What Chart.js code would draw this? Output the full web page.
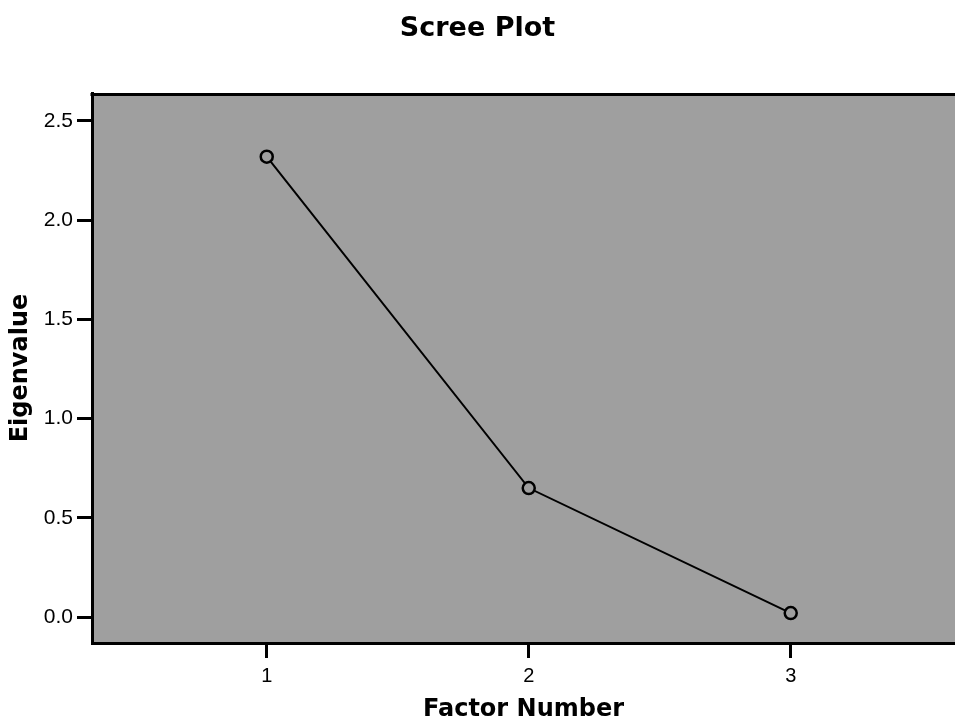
<!DOCTYPE html>
<html>
<head>
<meta charset="utf-8">
<title>Scree Plot</title>
<script src="https://cdn.jsdelivr.net/npm/chart.js@4.4.1/dist/chart.umd.min.js"></script>
<style>
    html, body { margin: 0; padding: 0; background: #fff; overflow: hidden; }
    canvas { display: block; }
</style>
</head>
<body>
<canvas id="screeChart" width="955" height="722"></canvas>
<script>
// Valeurs
const factorNumbers = [1, 2, 3];
const eigenvalues = [2.32, 0.65, 0.02];
const yTickValues = [0, 0.5, 1.0, 1.5, 2.0, 2.5];
const xTickValues = [1, 2, 3];

const plotGray = '#9f9f9f';

// Fond gris de la zone de tracé + bordure du haut
const plotFrame = {
    id: 'plotFrame',
    beforeDraw(chart) {
        const { ctx, chartArea } = chart;
        ctx.save();
        ctx.fillStyle = plotGray;
        ctx.fillRect(chartArea.left, chartArea.top, chartArea.right - chartArea.left, chartArea.bottom - chartArea.top);
        ctx.restore();
    },
    afterDraw(chart) {
        const { ctx, chartArea } = chart;
        ctx.save();
        ctx.strokeStyle = '#000';
        ctx.lineWidth = 3;
        ctx.beginPath();
        ctx.moveTo(chartArea.left - 1.5, chartArea.top + 1.5);
        ctx.lineTo(chartArea.right, chartArea.top + 1.5);
        ctx.stroke();
        ctx.restore();
    }
};

const ctx = document.getElementById('screeChart').getContext('2d');
new Chart(ctx, {
    type: 'scatter',
    data: {
        datasets: [{
            label: 'Eigenvalue',
            data: factorNumbers.map((f, i) => ({ x: f, y: eigenvalues[i] })),
            showLine: true,
            borderColor: '#000',
            borderWidth: 2,
            pointRadius: 6,
            pointHoverRadius: 6,
            pointBorderWidth: 2.5,
            pointBorderColor: '#000',
            pointBackgroundColor: plotGray,
            tension: 0
        }]
    },
    options: {
        responsive: false,
        animation: false,
        layout: { padding: 0, autoPadding: false },
        plugins: {
            legend: { display: false },
            tooltip: { enabled: false },
            title: {
                display: true,
                text: 'Scree Plot',
                color: '#000',
                font: { family: 'DejaVu Sans', size: 27, weight: 'bold', lineHeight: 1.2 },
                padding: { top: 13, bottom: 47.6 }
            }
        },
        scales: {
            x: {
                type: 'linear',
                min: 0.333,
                max: 3.627,
                afterFit: (scale) => {
                    scale.height = 79;
                    scale.paddingLeft = 0;
                    scale.paddingRight = 0;
                },
                afterBuildTicks: (scale) => { scale.ticks = xTickValues.map(v => ({ value: v })); },
                border: { display: true, width: 3, color: '#000' },
                grid: { drawOnChartArea: false, drawTicks: true, tickLength: 15, lineWidth: 3, color: '#000' },
                ticks: {
                    color: '#000',
                    padding: 6,
                    maxRotation: 0,
                    font: { family: 'Liberation Sans', size: 20 },
                    callback: (v) => String(v)
                },
                title: {
                    display: true,
                    text: 'Factor Number',
                    color: '#000',
                    font: { family: 'DejaVu Sans', size: 24, weight: 'bold', lineHeight: 1 },
                    padding: { top: 0, bottom: 0 }
                }
            },
            y: {
                type: 'linear',
                min: -0.131,
                max: 2.641,
                afterFit: (scale) => {
                    scale.width = 92;
                    scale.paddingTop = 0;
                    scale.paddingBottom = 0;
                },
                afterBuildTicks: (scale) => { scale.ticks = yTickValues.map(v => ({ value: v })); },
                border: { display: true, width: 3, color: '#000' },
                grid: { drawOnChartArea: false, drawTicks: true, tickLength: 15, lineWidth: 3, color: '#000' },
                ticks: {
                    color: '#000',
                    padding: 4,
                    font: { family: 'Liberation Sans', size: 21 },
                    callback: (v) => Number(v).toFixed(1)
                },
                title: {
                    display: true,
                    text: 'Eigenvalue',
                    color: '#000',
                    font: { family: 'DejaVu Sans', size: 24, weight: 'bold', lineHeight: 1.2 },
                    padding: { top: 6, bottom: 0 }
                }
            }
        }
    },
    plugins: [plotFrame]
});
</script>
</body>
</html>
